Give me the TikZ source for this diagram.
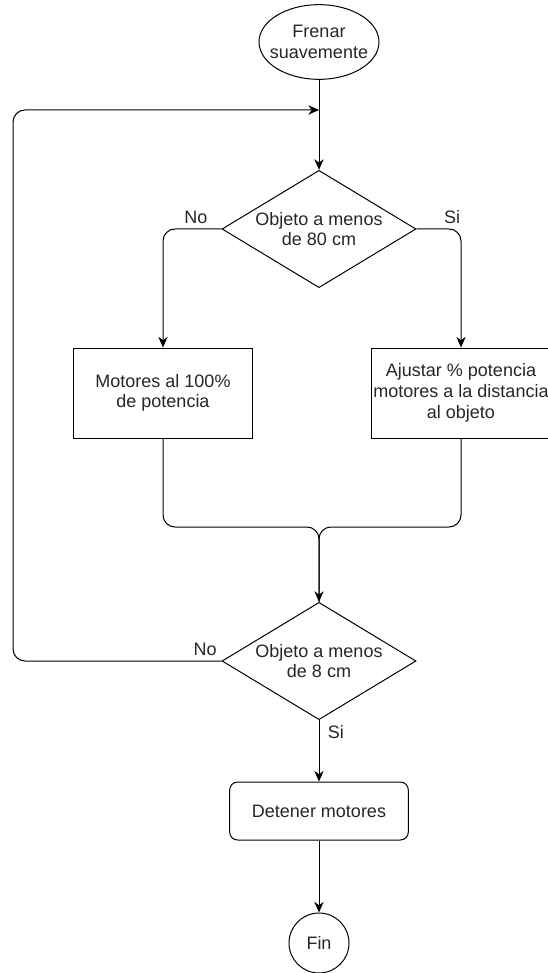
\documentclass[tikz,border=0pt]{standalone}
\usepackage{fontspec}
\setmainfont{Liberation Sans}
\usetikzlibrary{arrows.meta, shapes.geometric}

\begin{document}
\begin{tikzpicture}[x=0.75pt, y=-0.75pt,
	every node/.style={font=\fontsize{13.5}{15.5}\selectfont, text=black!85},
	base/.style={draw, line width=0.75pt, align=center, inner sep=0pt},
	terminal/.style={base, ellipse, inner xsep=-6pt, minimum width=90pt, minimum height=56pt},
	decision/.style={base, diamond, shape aspect=1.66, minimum width=145.5pt, minimum height=88pt},
	process/.style={base, rectangle, minimum width=134pt, minimum height=67.5pt},
	flow/.style={line width=0.75pt, rounded corners=9pt, -{Stealth[length=8pt, width=7pt]}},
	link/.style={line width=0.75pt, rounded corners=9pt}]
			\useasboundingbox (0,0) rectangle (548,973);

			\node[terminal] (start) at (319,42) {Frenar\\suavemente};
			\node[decision] (cond1) at (319,229) {Objeto a menos\\de 80 cm};
			\node[process] (full) at (163,393) {Motores al 100\%\\de potencia};
			\node[process] (adjust) at (461,393) {Ajustar \% potencia\\motores a la distancia\\al objeto};
			\node[decision] (cond2) at (319,661) {Objeto a menos\\de 8 cm};
			\node[process, rounded corners=6pt, minimum height=43.5pt] (stop) at (319,811) {Detener motores};
			\node[base, circle, minimum size=45pt] (fin) at (319,943) {Fin};

			\coordinate (merge) at (319,527);
			\coordinate (back) at (13,110);
			\coordinate (loopin) at (319,110);

			\draw[flow] (start) -- (cond1);
			\draw[flow] (cond1.west) -| node[pos=0.22, above] {No} (full.north);
			\draw[flow] (cond1.east) -| node[pos=0.4, above] {Si} (adjust.north);

			\draw[link] (adjust.south) |- (merge) -- (cond2.north);
			\draw[flow] (full.south) |- (merge) -- (cond2.north);

			\draw[flow] (cond2.west) node[above left] {No} -| (back) -- (loopin);
			\draw[flow] (cond2.south) node[below right, xshift=3pt] {Si} -- (stop);
			\draw[flow] (stop) -- (fin);
		\end{tikzpicture}
\end{document}
